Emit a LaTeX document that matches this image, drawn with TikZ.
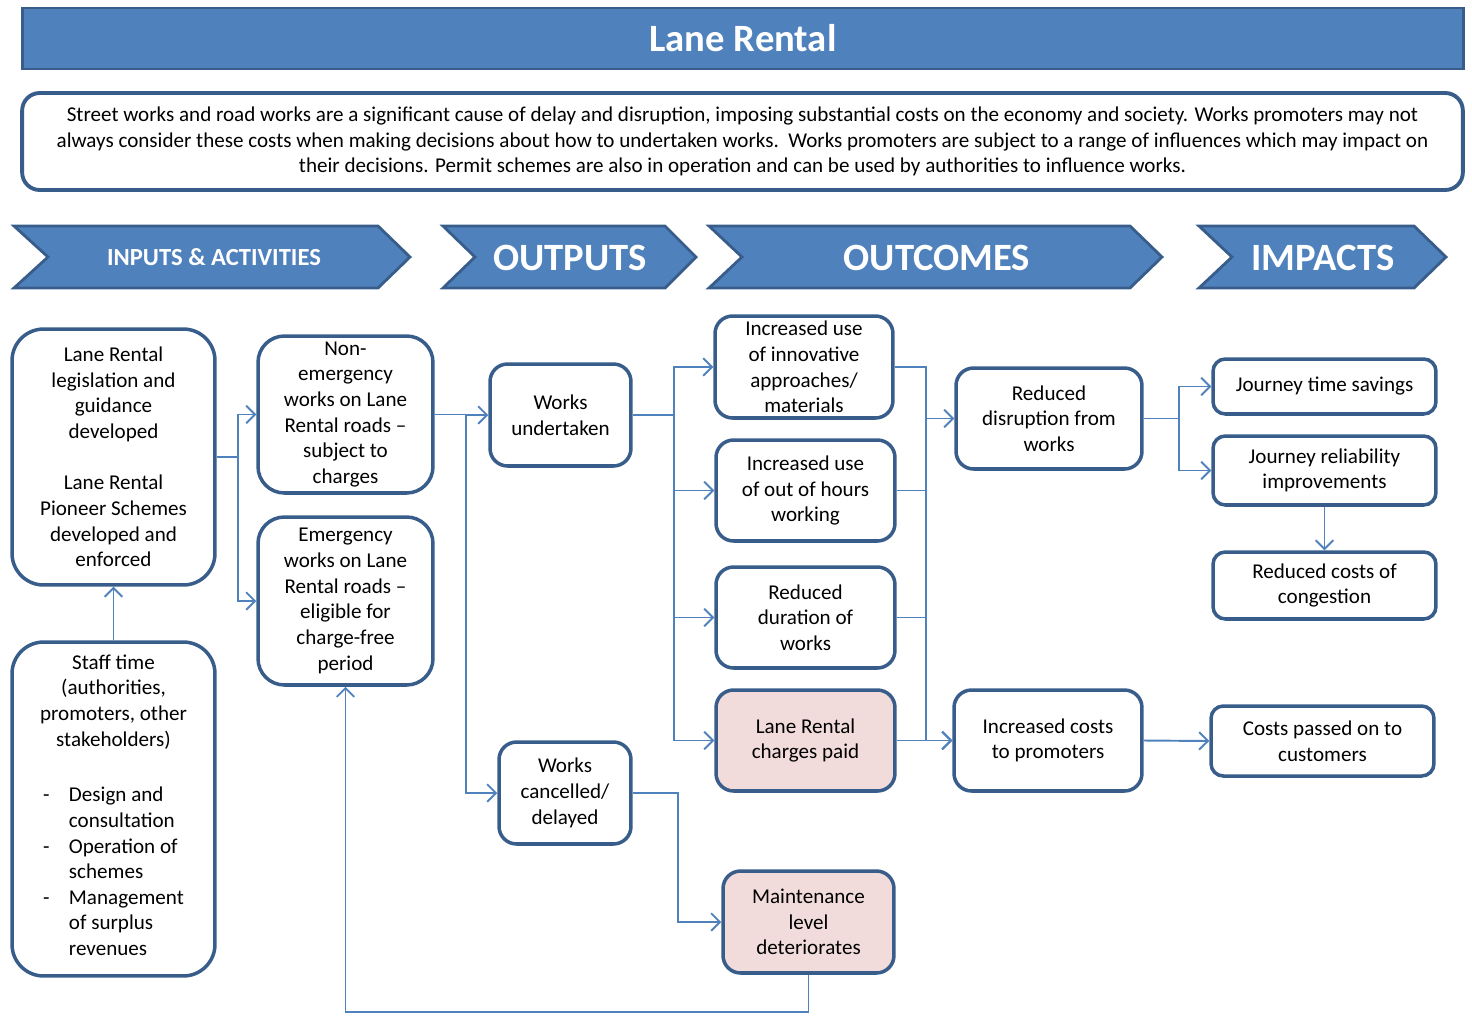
\documentclass[tikz,border=0pt]{standalone}
\usepackage{fontspec}
\setmainfont{Carlito}
\usepackage{xcolor}
\usepackage{tikz}
\usetikzlibrary{arrows.meta}

\definecolor{barblue}{HTML}{4F81BD}
\definecolor{darkblue}{HTML}{385D8A}
\definecolor{lineblue}{HTML}{4F81BD}
\definecolor{rosefill}{HTML}{F2DCDB}

\begin{document}
\begin{tikzpicture}[
  x=0.02cm, y=-0.02cm,
  font=\fontsize{12}{14.6}\selectfont,
  box/.style={rectangle, rounded corners=10pt, draw=darkblue, line width=2pt,
              fill=white, align=center, inner sep=1pt},
  bigbox/.style={box, rounded corners=18pt},
  pbox/.style={box, fill=rosefill},
  band/.style={fill=barblue, draw=darkblue, line width=1.6pt},
  bandtext/.style={text=white, font=\fontsize{22}{26}\selectfont\bfseries},
  arr/.style={-{Straight Barb[length=5pt,width=10pt]}, line width=1.1pt, draw=lineblue},
  wire/.style={line width=1.1pt, draw=lineblue},
]
\useasboundingbox (0,0) rectangle (1472,1019);

%% ---- Title and intro ----
\node[band, bandtext, rectangle, minimum width=28.84cm, minimum height=1.22cm, inner sep=0pt]
  (title) at (743,38.5) {Lane Rental};
\node[box, line width=2.2pt, minimum width=28.82cm, minimum height=1.94cm,
      font=\fontsize{12}{14.5}\selectfont] (intro) at (742.5,141.5)
  {Street works and road works are a significant cause of delay and disruption, imposing substantial costs on the economy and society. Works promoters may not\\
   always consider these costs when making decisions about how to undertaken works.\ \ Works promoters are subject to a range of influences which may impact on\\
   their decisions. Permit schemes are also in operation and can be used by authorities to influence works.};

%% ---- Chevrons ----
\draw[band] (14,226) -- (378,226) -- (410,257) -- (378,288) -- (14,288) -- (48,257) -- cycle;
\node[bandtext, font=\fontsize{14}{17}\selectfont\bfseries] (inputs) at (214,257) {INPUTS \& ACTIVITIES};
\draw[band] (443,226) -- (665,226) -- (696,257) -- (665,288) -- (443,288) -- (475,257) -- cycle;
\node[bandtext] (outputs) at (570,258) {OUTPUTS};
\draw[band] (709,226) -- (1130,226) -- (1162,257) -- (1130,288) -- (709,288) -- (742,257) -- cycle;
\node[bandtext] (outcomes) at (937,258) {OUTCOMES};
\draw[band] (1199,226) -- (1414,226) -- (1446,257) -- (1414,288) -- (1199,288) -- (1232,257) -- cycle;
\node[bandtext] (impacts) at (1323,258) {IMPACTS};

%% ---- Inputs & activities ----
\node[bigbox, minimum width=4.06cm, minimum height=5.12cm] (legis) at (113.5,457)
  {Lane Rental\\legislation and\\guidance\\developed\\[14.6pt]Lane Rental\\Pioneer Schemes\\developed and\\enforced};
\node[bigbox, minimum width=4.06cm, minimum height=6.68cm] (staff) at (113.5,809)
  {Staff time\\(authorities,\\promoters, other\\stakeholders)\\[17pt]
   \begin{tabular}[t]{@{}l@{\hspace{11pt}}l@{}}
   - & Design and\\ & consultation\\
   - & Operation of\\ & schemes\\
   - & Management\\ & of surplus\\ & revenues
   \end{tabular}};
\node[bigbox, rounded corners=15pt, minimum width=3.5cm, minimum height=3.14cm] (nonemerg) at (345.5,414.5)
  {Non-\\emergency\\works on Lane\\Rental roads --\\subject to\\charges};
\node[bigbox, rounded corners=15pt, minimum width=3.5cm, minimum height=3.36cm] (emerg) at (345.5,601)
  {Emergency\\works on Lane\\Rental roads --\\eligible for\\charge-free\\period};

%% ---- Outputs ----
\node[box, minimum width=2.82cm, minimum height=2.04cm] (worksU) at (560.5,415) {Works\\undertaken};
\node[box, minimum width=2.64cm, minimum height=2.04cm] (worksC) at (565,793) {Works\\cancelled/\\delayed};

%% ---- Outcomes ----
\node[box, minimum width=3.56cm, minimum height=2.04cm] (innov) at (804,367)
  {Increased use\\of innovative\\approaches/\\materials};
\node[box, minimum width=3.58cm, minimum height=2.02cm] (outhours) at (805.5,490.5)
  {Increased use\\of out of hours\\working};
\node[box, minimum width=3.58cm, minimum height=2.02cm] (duration) at (805.5,617.5)
  {Reduced\\duration of\\works};
\node[pbox, minimum width=3.58cm, minimum height=2.02cm] (charges) at (805.5,740.5)
  {Lane Rental\\charges paid};
\node[pbox, minimum width=3.42cm, minimum height=2.04cm] (maint) at (808.5,922)
  {Maintenance\\level\\deteriorates};
\node[box, minimum width=3.72cm, minimum height=2.02cm] (disrupt) at (1049,418.5)
  {Reduced\\disruption from\\works};
\node[box, minimum width=3.76cm, minimum height=2.02cm] (incCosts) at (1048,740.5)
  {Increased costs\\to promoters};

%% ---- Impacts ----
\node[box, rounded corners=7pt, minimum width=4.46cm, minimum height=1.1cm] (jts) at (1324.5,386.5)
  {Journey time savings};
\node[box, rounded corners=7pt, minimum width=4.46cm, minimum height=1.38cm] (jrel) at (1324.5,470.5)
  {Journey reliability\\improvements};
\node[box, rounded corners=7pt, minimum width=4.46cm, minimum height=1.34cm] (congest) at (1324.5,585.5)
  {Reduced costs of\\congestion};
\node[box, rounded corners=7pt, minimum width=4.46cm, minimum height=1.4cm] (custs) at (1322.5,741)
  {Costs passed on to\\customers};

%% ---- Arrows ----
\draw[arr] (staff.north) -- (legis.south);
\draw[arr] (legis.east) -- ++(21,0) |- (nonemerg.west);
\draw[arr] (legis.east) -- ++(21,0) |- (emerg.west);
\draw[arr] (nonemerg.east) -- ++(31,0) |- (worksU.west);
\draw[arr] (nonemerg.east) -- ++(31,0) |- (worksC.west);
\draw[arr] (worksU.east) -- ++(41,0) |- (innov.west);
\draw[arr] (worksU.east) -- ++(41,0) |- (outhours.west);
\draw[arr] (worksU.east) -- ++(41,0) |- (duration.west);
\draw[arr] (worksU.east) -- ++(41,0) |- (charges.west);
\draw[arr] (worksC.east) -- ++(45,0) |- (maint.west);
\draw[arr] (maint.south) -- ++(0,37) -| (emerg.south);
\draw[arr] (innov.east) -- ++(31,0) |- (disrupt.west);
\draw[arr] (innov.east) -- ++(31,0) |- (incCosts.west);
\draw[wire] (outhours.east) -- ++(29,0);
\draw[wire] (duration.east) -- ++(29,0);
\draw[arr] (charges.east) -- (incCosts.west);
\draw[arr] (disrupt.east) -- ++(35,0) |- (jts.west);
\draw[arr] (disrupt.east) -- ++(35,0) |- (jrel.west);
\draw[arr] (jrel.south) -- (congest.north);
\draw[arr] (incCosts.east) -- (custs.west);

\end{tikzpicture}
\end{document}
